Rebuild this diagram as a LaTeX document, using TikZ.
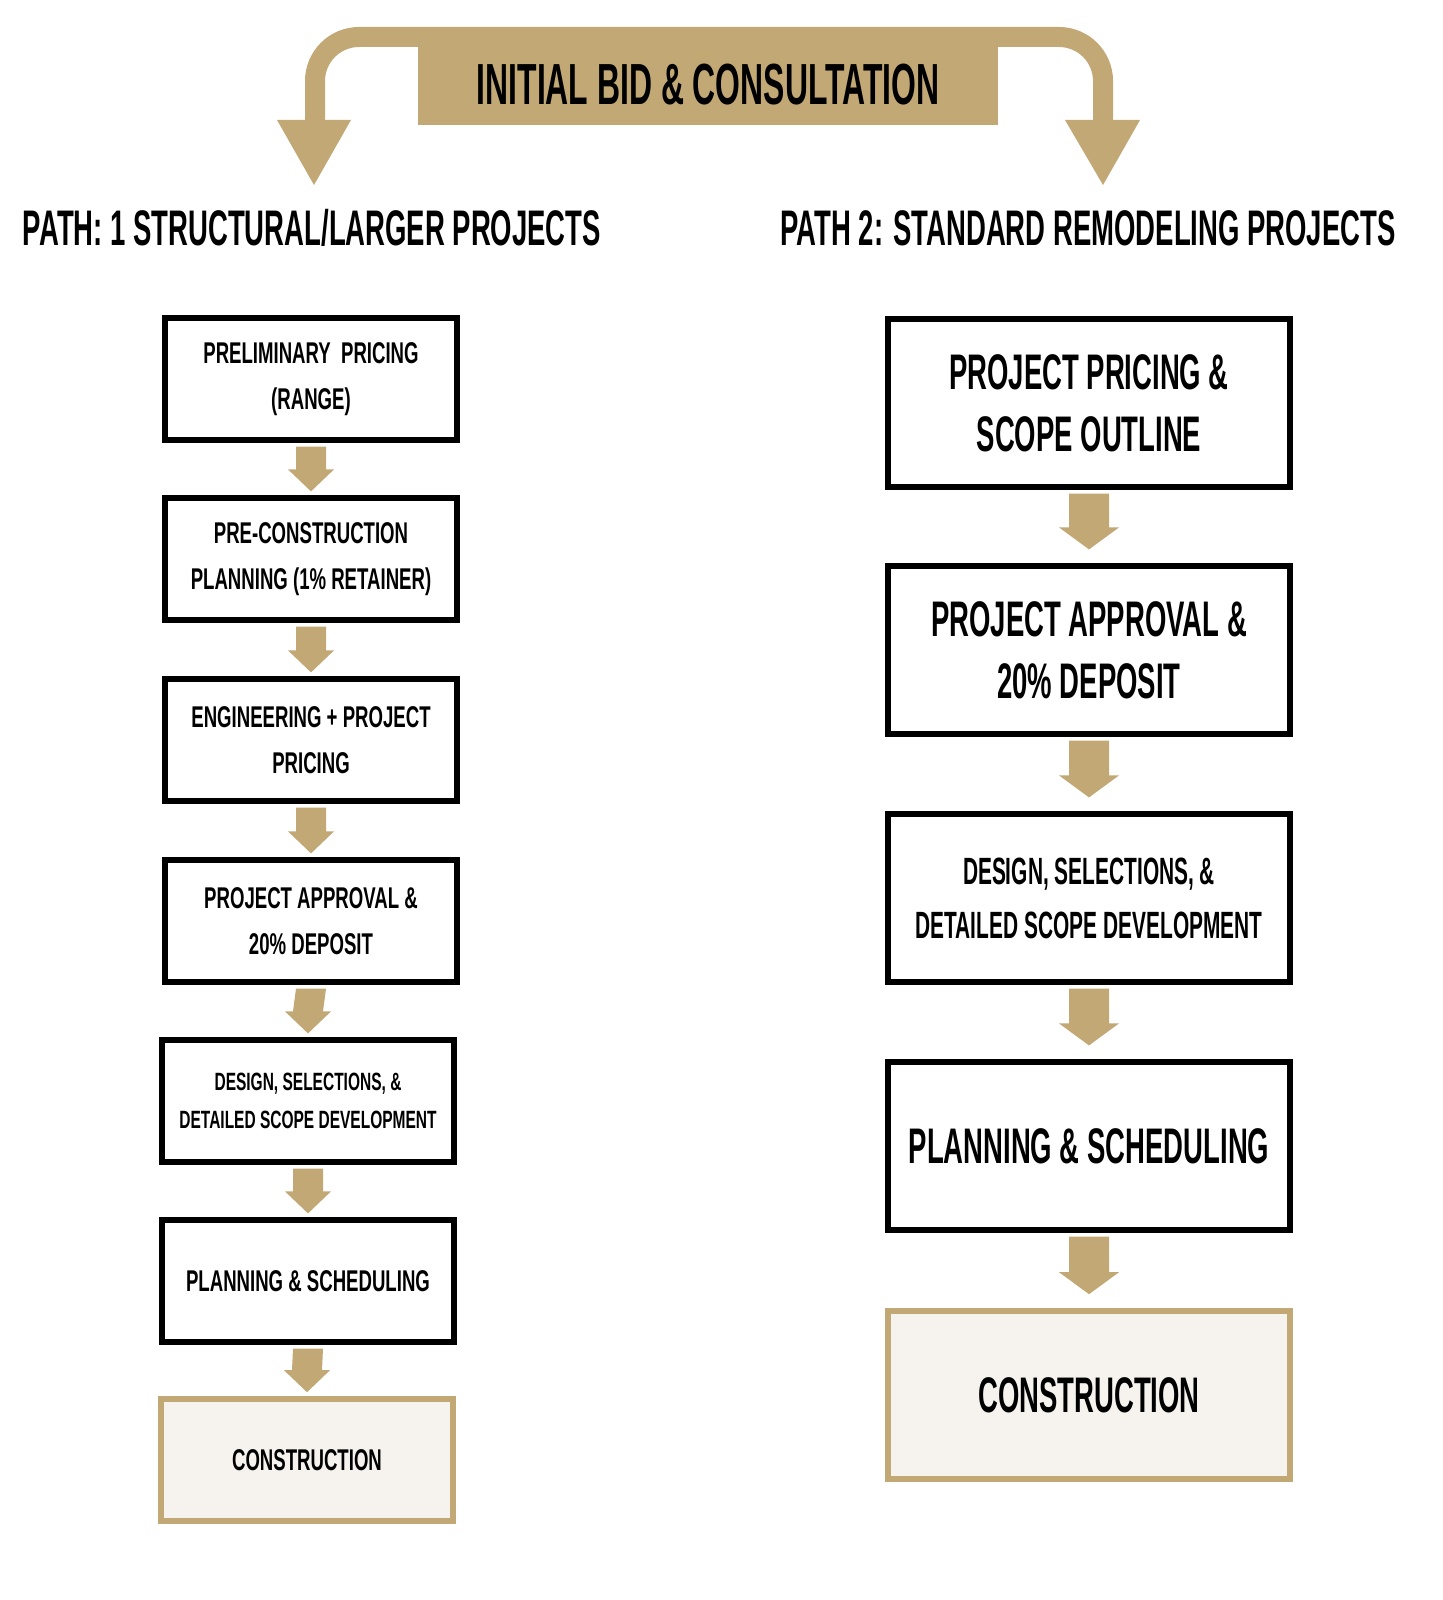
\documentclass[tikz,border=0pt]{standalone}
\usepackage{fontspec}
\setmainfont{Liberation Sans}
\usetikzlibrary{calc}
\definecolor{gold}{HTML}{C2A875}
\definecolor{cream}{HTML}{F6F3EE}
\newcommand{\cnd}[1]{\scalebox{0.62}[1]{#1}}
\newcommand{\cnr}[1]{\scalebox{0.55}[1]{#1}}
\tikzset{x=0.5pt,y=-0.5pt,
 lbox/.style={draw=black,line width=2.6pt,minimum width=146pt,minimum height=61pt,align=center,font=\bfseries\fontsize{15}{23}\selectfont},
 rbox/.style={draw=black,line width=2.6pt,minimum width=201pt,minimum height=84pt,align=center,font=\bfseries\fontsize{25}{31}\selectfont},
 cbox/.style={draw=gold,fill=cream,line width=2.8pt},
 head/.style={font=\bfseries\fontsize{25}{30}\selectfont}}
\newcommand{\larr}[2]{\fill[gold] ($(#1.south)+(-15,4)$) -- ($(#1.south)+(15,4)$) -- ($(#2.north)+(15,-26)$) -- ($(#2.north)+(23,-26)$) -- ($(#2.north)+(0,-4)$) -- ($(#2.north)+(-23,-26)$) -- ($(#2.north)+(-15,-26)$) -- cycle;}
\newcommand{\rarr}[2]{\fill[gold] ($(#1.south)+(-20,4)$) -- ($(#1.south)+(20,4)$) -- ($(#2.north)+(20,-36)$) -- ($(#2.north)+(30,-36)$) -- ($(#2.north)+(0,-14)$) -- ($(#2.north)+(-30,-36)$) -- ($(#2.north)+(-20,-36)$) -- cycle;}
\begin{document}
\begin{tikzpicture}
\useasboundingbox (0,0) rectangle (1443,1600);
\draw[gold,line width=10pt,rounded corners=22pt] (315,122) -- (315,37) -- (1103,37) -- (1103,122);
\fill[gold] (277,120) -- (351,120) -- (314,185) -- cycle;
\fill[gold] (1065,120) -- (1140,120) -- (1103,185) -- cycle;
\node[fill=gold,minimum width=290pt,minimum height=40pt,inner sep=0pt,font=\bfseries\fontsize{29}{30}\selectfont] (title) at (708,85) {\cnr{INITIAL BID \& CONSULTATION}};
\node[head] (h1) at (312,228) {\cnr{PATH: 1 STRUCTURAL/LARGER PROJECTS}};
\node[head] (h2) at (1088,228) {\cnr{PATH 2: STANDARD REMODELING PROJECTS}};
\node[lbox] (l1) at (311,379) {\cnd{PRELIMINARY\ \ PRICING}\\\cnd{(RANGE)}};
\node[lbox] (l2) at (311,559) {\cnd{PRE-CONSTRUCTION}\\\cnd{PLANNING (1\% RETAINER)}};
\node[lbox] (l3) at (311,740) {\cnd{ENGINEERING + PROJECT}\\\cnd{PRICING}};
\node[lbox] (l4) at (311,921) {\cnd{PROJECT APPROVAL \&}\\\cnd{20\% DEPOSIT}};
\node[lbox,font=\bfseries\fontsize{12.5}{19}\selectfont] (l5) at (308,1101) {\cnd{DESIGN, SELECTIONS, \&}\\\cnd{DETAILED SCOPE DEVELOPMENT}};
\node[lbox] (l6) at (308,1281) {\cnd{PLANNING \& SCHEDULING}};
\node[lbox,cbox] (l7) at (307,1460) {\cnd{CONSTRUCTION}};
\larr{l1}{l2}\larr{l2}{l3}\larr{l3}{l4}\larr{l4}{l5}\larr{l5}{l6}\larr{l6}{l7}
\node[rbox] (r1) at (1089,403) {\cnr{PROJECT PRICING \&}\\\cnr{SCOPE OUTLINE}};
\node[rbox] (r2) at (1089,650) {\cnr{PROJECT APPROVAL \&}\\\cnr{20\% DEPOSIT}};
\node[rbox,font=\bfseries\fontsize{19}{27}\selectfont] (r3) at (1089,898) {\cnr{DESIGN, SELECTIONS, \&}\\\cnr{DETAILED SCOPE DEVELOPMENT}};
\node[rbox] (r4) at (1089,1146) {\cnr{PLANNING \& SCHEDULING}};
\node[rbox,cbox] (r5) at (1089,1395) {\cnr{CONSTRUCTION}};
\rarr{r1}{r2}\rarr{r2}{r3}\rarr{r3}{r4}\rarr{r4}{r5}
\end{tikzpicture}
\end{document}
